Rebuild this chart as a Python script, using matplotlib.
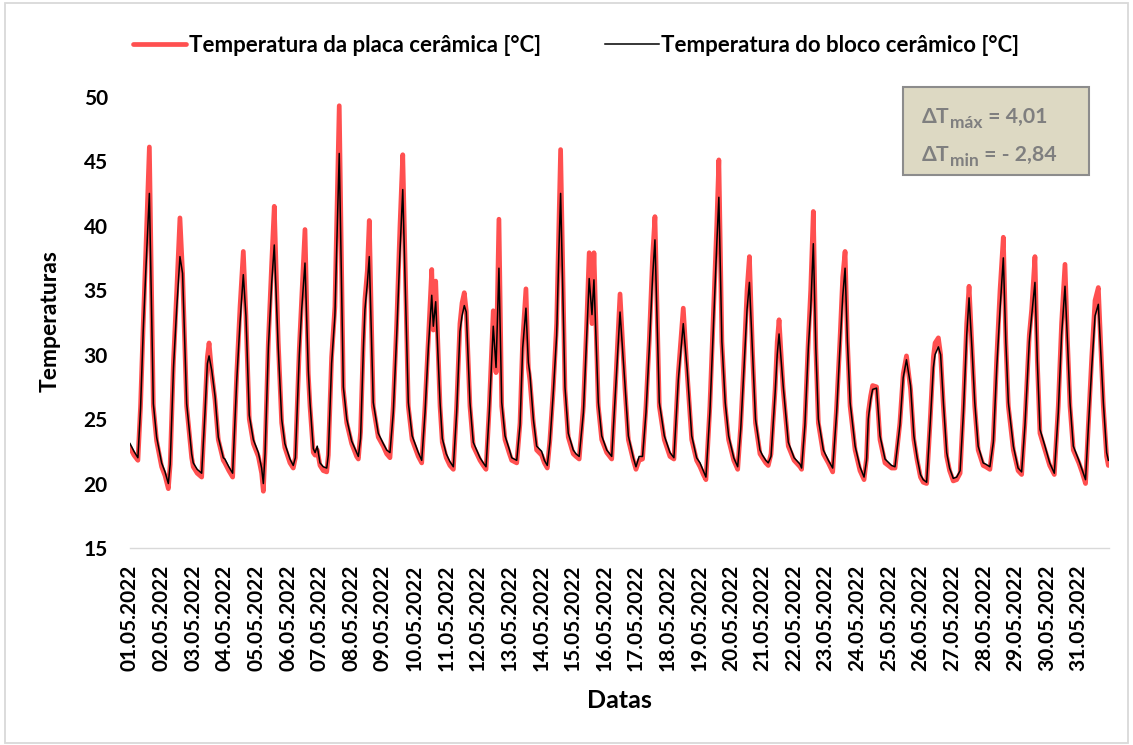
import matplotlib
matplotlib.use("Agg")
import matplotlib.pyplot as plt
from matplotlib.patches import Rectangle
from matplotlib.text import Annotation
import numpy as np

plt.rcParams['font.family'] = ['Lato', 'DejaVu Sans']
plt.rcParams['font.weight'] = 'bold'

# === Rótulos do eixo X (um por dia) ===
DATAS = ["01.05.2022", "02.05.2022", "03.05.2022", "04.05.2022", "05.05.2022",
         "06.05.2022", "07.05.2022", "08.05.2022", "09.05.2022", "10.05.2022",
         "11.05.2022", "12.05.2022", "13.05.2022", "14.05.2022", "15.05.2022",
         "16.05.2022", "17.05.2022", "18.05.2022", "19.05.2022", "20.05.2022",
         "21.05.2022", "22.05.2022", "23.05.2022", "24.05.2022", "25.05.2022",
         "26.05.2022", "27.05.2022", "28.05.2022", "29.05.2022", "30.05.2022",
         "31.05.2022"]

# === Horas de leitura dentro de cada dia (0-24), uma linha por dia ===
HORAS = [
    [0, 3, 6, 8, 10, 12, 14.7, 17.7, 20.2],
    [0, 2.6, 5.1, 6.5, 9, 11.4, 13.9, 15.9, 19, 22.8],
    [0, 3, 6.4, 8.9, 10.7, 12, 14, 16.5, 19, 22.8],
    [0, 3, 5.9, 9, 11.5, 14, 16, 18.5, 21.6],
    [1.4, 3.9, 5.2, 6.5, 9, 11.5, 13.5, 16.5, 19.1, 21.5],
    [1.4, 3.9, 5.5, 8.5, 10.3, 12.8, 15.3, 16.6, 19.1, 20.5, 22.1],
    [0.2, 2.7, 5.3, 6.5, 9, 11.5, 13.3, 14.8, 17.9, 20.5],
    [0.2, 4, 5.3, 7, 9.1, 10.3, 12.1, 13.6, 16.6, 20.4],
    [0.2, 2.8, 5.3, 7.8, 10.4, 12.9, 15, 19.2, 22.1],
    [2.8, 5.4, 7.9, 10.4, 13, 14.2, 16, 19.3, 21],
    [0, 2.8, 5.4, 7.9, 10.4, 12, 13.7, 15.2, 18, 20.5],
    [1.6, 4.1, 6.2, 8.7, 11.7, 13.8, 16, 18.1, 20.6],
    [0, 1.7, 5.5, 8, 10, 12.5, 14.3, 15.5, 18.1, 20.6],
    [0.4, 2.5, 4.7, 6.7, 9.2, 11.8, 13.5, 14.8, 18.1, 20.6],
    [0.4, 2.5, 4.9, 8.1, 10.6, 12.5, 14.6, 16.1, 19.4, 22],
    [1.8, 5.6, 8.9, 11.9, 15.7, 18.2, 22],
    [0, 2.4, 5, 7.6, 10.1, 12.6, 14.4, 17.7, 21.5],
    [1.8, 4.8, 8.1, 11.9, 14.9, 18.3, 22],
    [0.6, 3.1, 5.1, 8.1, 10.7, 13.3, 14.9, 17.2, 19.7, 22.3],
    [2.2, 5.2, 7.5, 9.7, 12.3, 14.1, 16.5, 18.7, 22.1],
    [0, 2.5, 4.4, 6.5, 9.6, 11.2, 12.6, 15.7, 19.6],
    [0, 4.5, 5.7, 8.2, 10.8, 12.6, 14.6, 16.5, 18.4, 22.2],
    [2, 5.3, 8.3, 10.8, 12.9, 14.7, 16.5, 18.5, 22.3],
    [2, 5.1, 7, 8.3, 10.1, 11.6, 14.6, 17.2, 21],
    [2, 4.6, 8.3, 10.8, 13.3, 16.4, 18.9, 21.4, 23.9],
    [2, 4.6, 7.2, 9.7, 11, 13.5, 15.2, 17.3, 19.8, 22],
    [0.8, 3.4, 6, 8.5, 11, 12.8, 15, 17.1, 19.7, 23.5],
    [1.5, 4.6, 7.2, 9.8, 12.3, 14.8, 16.7, 18.6, 22.4],
    [2, 4.7, 7.2, 10.5, 12.3, 14.8, 16.6, 18.6, 22.4],
    [2, 5.5, 8.5, 11, 13.6, 15.5, 17.4, 19.9],
    [0.1, 2.5, 5.2, 7.4, 9.9, 12.4, 14.9, 18.7, 21.2, 22.5],
]

# === Temperatura da placa cerâmica [°C] ===
PLACA = [
    [22.8, 22.2, 21.8, 26.0, 32.2, 38.0, 46.1, 26.0, 23.3],
    [21.3, 20.6, 19.6, 21.5, 29.5, 34.8, 40.6, 36.3, 26.0, 22.0],
    [21.3, 20.8, 20.5, 26.0, 29.8, 30.9, 28.6, 26.5, 23.4, 21.8],
    [21.6, 21.0, 20.5, 28.5, 33.7, 38.0, 33.0, 25.0, 23.1],
    [22.1, 20.8, 19.4, 22.5, 31.0, 37.0, 41.5, 31.0, 24.7, 22.8],
    [21.6, 21.2, 22.0, 30.5, 34.3, 39.7, 28.5, 26.0, 22.4, 22.2, 22.6],
    [21.4, 21.0, 20.9, 22.2, 29.8, 33.7, 42.0, 49.3, 27.3, 24.7],
    [23.1, 22.1, 21.9, 24.0, 31.1, 34.3, 36.5, 40.4, 26.0, 23.6],
    [22.9, 22.3, 22.0, 26.0, 32.4, 40.0, 45.5, 26.0, 23.4],
    [22.1, 21.6, 26.0, 31.1, 36.6, 31.9, 35.7, 26.0, 23.2],
    [22.0, 21.4, 21.1, 26.0, 32.4, 34.0, 34.8, 33.4, 26.0, 22.9],
    [21.8, 21.4, 21.1, 26.0, 33.4, 28.6, 40.5, 26.0, 23.4],
    [22.3, 21.8, 21.6, 24.7, 31.1, 35.1, 29.0, 28.0, 24.7, 22.6],
    [22.2, 21.6, 21.2, 23.4, 27.3, 32.4, 40.0, 45.9, 27.3, 23.6],
    [22.3, 22.1, 21.9, 26.0, 32.4, 37.9, 32.4, 37.9, 26.0, 23.4],
    [22.4, 21.9, 28.5, 34.7, 27.3, 23.4, 21.8],
    [21.1, 21.8, 21.9, 26.0, 31.1, 37.6, 40.7, 26.0, 23.4],
    [22.1, 21.9, 28.5, 33.6, 28.5, 23.4, 21.8],
    [21.3, 20.7, 20.3, 26.0, 33.0, 40.0, 45.1, 31.0, 26.0, 23.4],
    [21.8, 21.1, 24.5, 29.0, 35.0, 37.6, 30.0, 24.7, 22.3],
    [22.0, 21.6, 21.4, 22.3, 27.3, 31.0, 32.7, 27.3, 22.9],
    [21.8, 21.3, 21.1, 24.7, 31.1, 35.0, 41.1, 30.5, 24.7, 22.3],
    [21.6, 20.9, 26.0, 31.1, 36.0, 38.0, 31.0, 26.0, 22.6],
    [21.0, 20.3, 22.0, 25.5, 26.8, 27.6, 27.5, 23.4, 21.6],
    [21.2, 21.2, 24.7, 28.5, 29.9, 27.3, 23.4, 21.8, 20.5],
    [20.1, 20.0, 24.7, 29.8, 30.9, 31.3, 30.0, 26.0, 22.1, 21.0],
    [20.2, 20.3, 20.8, 26.0, 32.4, 35.3, 30.5, 26.0, 22.6, 21.4],
    [21.3, 21.1, 23.4, 29.8, 35.0, 39.1, 31.0, 26.0, 22.6],
    [21.0, 20.7, 24.7, 31.5, 33.5, 37.6, 29.5, 23.9, 22.6],
    [21.4, 20.7, 26.0, 32.4, 37.0, 31.0, 26.0, 22.6],
    [21.6, 20.9, 20.0, 24.7, 29.8, 34.2, 35.2, 26.0, 22.1, 21.4],
]

# === Temperatura do bloco cerâmico [°C] ===
BLOCO = [
    [23.1, 22.5, 22.0, 25.8, 31.8, 36.5, 42.5, 26.2, 23.6],
    [21.6, 20.9, 20.0, 21.5, 29.0, 33.5, 37.6, 36.3, 26.2, 22.3],
    [21.6, 21.1, 20.8, 25.5, 29.3, 29.9, 28.8, 26.8, 23.6, 22.0],
    [21.9, 21.3, 20.8, 28.0, 32.5, 36.2, 33.0, 25.3, 23.4],
    [22.4, 21.2, 20.0, 22.3, 30.5, 35.5, 38.5, 30.5, 25.0, 23.1],
    [21.9, 21.4, 22.0, 30.0, 33.5, 37.1, 28.8, 26.3, 22.7, 22.4, 22.9],
    [21.6, 21.3, 21.2, 22.2, 29.3, 33.0, 40.0, 45.6, 27.5, 25.0],
    [23.3, 22.4, 22.1, 23.5, 30.5, 33.5, 35.5, 37.6, 26.3, 23.9],
    [23.1, 22.6, 22.4, 25.5, 31.5, 38.0, 42.8, 26.3, 23.7],
    [22.4, 21.8, 25.5, 30.5, 34.6, 32.2, 34.1, 26.3, 23.5],
    [22.3, 21.7, 21.3, 25.5, 31.8, 33.0, 33.8, 33.3, 26.3, 23.2],
    [22.0, 21.6, 21.3, 25.6, 32.2, 29.0, 36.7, 26.3, 23.7],
    [22.6, 22.0, 21.8, 24.5, 30.5, 33.6, 29.4, 28.5, 25.0, 22.9],
    [22.5, 21.8, 21.4, 23.2, 27.0, 31.5, 38.0, 42.5, 27.5, 23.9],
    [22.6, 22.3, 22.1, 25.5, 31.5, 35.9, 33.1, 35.8, 26.3, 23.7],
    [22.6, 22.1, 28.0, 33.3, 27.6, 23.7, 22.0],
    [21.3, 22.1, 22.1, 25.5, 30.5, 36.0, 38.9, 26.3, 23.7],
    [22.4, 22.0, 28.0, 32.4, 28.8, 23.7, 22.0],
    [21.6, 21.0, 20.5, 25.5, 32.0, 38.5, 42.2, 31.0, 26.3, 23.7],
    [22.0, 21.3, 24.2, 28.5, 33.5, 35.6, 30.0, 25.0, 22.6],
    [22.2, 21.8, 21.6, 22.1, 27.0, 30.0, 31.6, 27.6, 23.2],
    [22.0, 21.5, 21.2, 24.5, 30.5, 33.5, 38.6, 30.5, 25.0, 22.6],
    [21.8, 21.2, 25.5, 30.5, 34.5, 36.7, 31.0, 26.3, 22.9],
    [21.3, 20.5, 21.8, 25.0, 26.5, 27.3, 27.4, 23.7, 21.9],
    [21.4, 21.3, 24.5, 28.2, 29.6, 27.6, 23.7, 22.0, 20.7],
    [20.3, 20.1, 24.5, 29.0, 30.0, 30.6, 30.0, 26.3, 22.4, 21.2],
    [20.4, 20.5, 21.0, 25.5, 31.5, 34.4, 30.5, 26.3, 22.9, 21.6],
    [21.5, 21.3, 23.2, 29.0, 33.5, 37.5, 31.0, 26.3, 22.9],
    [21.2, 20.9, 24.5, 31.0, 33.0, 35.6, 29.5, 24.2, 22.9],
    [21.6, 20.8, 25.5, 31.5, 35.3, 31.0, 26.3, 22.9],
    [21.8, 21.1, 20.3, 24.5, 29.0, 33.0, 33.9, 26.3, 22.4, 21.8],
]

DT_MAX = "4,01"
DT_MIN = "- 2,84"

COR_PLACA = "#FF5050"
COR_TEXTO_CAIXA = "#7F7F7F"

W, H = 1133, 745
fig = plt.figure(figsize=(W / 100, H / 100), dpi=100)
ax = fig.add_axes([130 / W, 1 - 548 / H, (1109 - 130) / W, (548 - 96.7) / H])

# horas contadas desde 01.05 00:00
x = np.concatenate([24 * d + np.array(h) for d, h in enumerate(HORAS)])
placa = np.concatenate(PLACA)
bloco = np.concatenate(BLOCO)

l1, = ax.plot(x, placa, color=COR_PLACA, lw=3.4, solid_joinstyle="round",
              solid_capstyle="round", label="Temperatura da placa cerâmica [°C]")
l2, = ax.plot(x, bloco, color="black", lw=1.1,
              label="Temperatura do bloco cerâmico [°C]")

ax.set_xlim(0, 743)
ax.set_ylim(15, 50)
ax.set_yticks(range(15, 51, 5))
ax.set_xticks(np.arange(len(DATAS)) * 24)
ax.set_xticklabels(DATAS, rotation=90, va="top", ha="center")
ax.tick_params(axis="y", length=0, pad=16, labelsize=15)
ax.tick_params(axis="x", length=0, pad=12, labelsize=15)
for s in ["top", "right", "left"]:
    ax.spines[s].set_visible(False)
ax.spines["bottom"].set_color("#D9D9D9")
ax.spines["bottom"].set_linewidth(1.0)

fig.text(50 / W, 1 - 321 / H, "Temperaturas", rotation=90, ha="center",
         va="center", size=16.5)
fig.text(619 / W, 1 - 701 / H, "Datas", ha="center", va="center", size=18)

fig.legend(handles=[l1, l2], loc="center", bbox_to_anchor=(576 / W, 1 - 45 / H),
           ncol=2, frameon=False, fontsize=16, handlelength=2.4,
           handletextpad=0.1, columnspacing=2.9)

# caixa com as diferenças de temperatura
fig.add_artist(Rectangle((903 / W, 1 - 175 / H), (1089 - 903) / W, (175 - 87) / H,
                         transform=fig.transFigure, facecolor="#DDD9C3",
                         edgecolor="#8C8C8C", lw=1.5, zorder=1))
for yb, sub, val in [(122.7, "máx", DT_MAX), (161.0, "min", DT_MIN)]:
    yf = 1 - yb / H
    t1 = fig.text(922 / W, yf, "ΔT", va="baseline", size=15.3, color=COR_TEXTO_CAIXA)
    t2 = Annotation(sub, xy=(1, yf), xycoords=(t1, "figure fraction"),
                    xytext=(0.5, -3.5), textcoords="offset points", va="baseline",
                    size=12.5, color=COR_TEXTO_CAIXA)
    fig.add_artist(t2)
    t3 = Annotation(" = " + val, xy=(1, yf), xycoords=(t2, "figure fraction"),
                    xytext=(0, 0), textcoords="offset points", va="baseline",
                    size=15.3, color=COR_TEXTO_CAIXA)
    fig.add_artist(t3)

# borda da área do gráfico
fig.add_artist(Rectangle((4.5 / W, 2.5 / H), (1128 - 4.5) / W, (742.5 - 2.5) / H,
                         transform=fig.transFigure, fill=False,
                         edgecolor="#D9D9D9", lw=1.3))

fig.savefig("out.png", dpi=100)
